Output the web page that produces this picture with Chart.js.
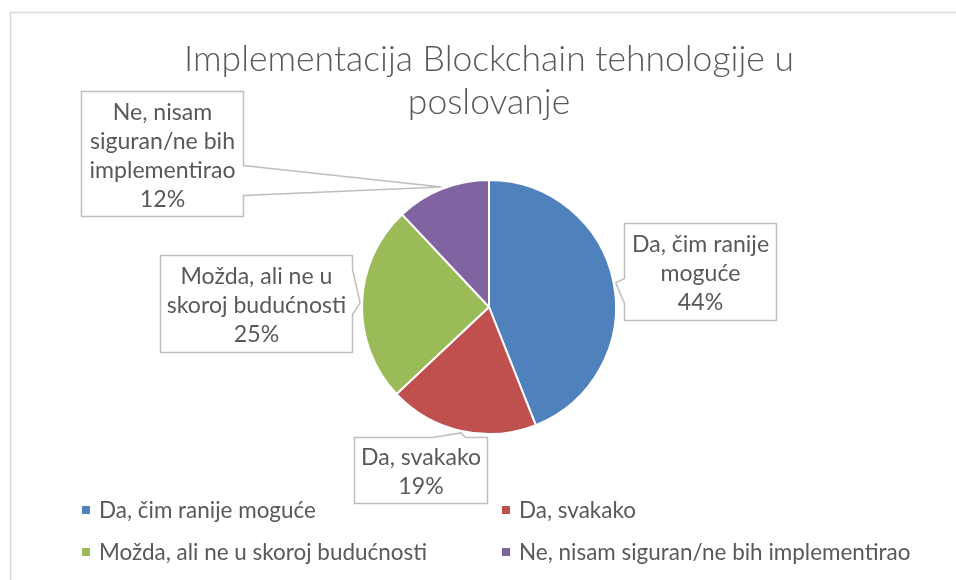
<!DOCTYPE html>
<html>
<head>
<meta charset="utf-8">
<style>
html,body{margin:0;padding:0;background:#fff;}
#wrap{width:956px;height:580px;position:relative;}
</style>
<script src="https://cdn.jsdelivr.net/npm/chart.js@4/dist/chart.umd.min.js"></script>
</head>
<body>
<div id="wrap"><canvas id="c" width="956" height="580"></canvas></div>
<script>
// ---- data ----
const titleLines = ['Implementacija Blockchain tehnologije u', 'poslovanje'];
const categories = ['Da, čim ranije moguće', 'Da, svakako', 'Možda, ali ne u skoroj budućnosti', 'Ne, nisam siguran/ne bih implementirao'];
const values = [44, 19, 25, 12];
const labelLines = [['Da, čim ranije', 'moguće'], ['Da, svakako'], ['Možda, ali ne u', 'skoroj budućnosti'], ['Ne, nisam', 'siguran/ne bih', 'implementirao']];
const colors = ['#4F81BD', '#C0504D', '#9BBB59', '#8064A2'];

// ---- styles / layout ----
const TEXT = '#595959';
const FAMILY = 'Lato, "Open Sans", sans-serif';
const mctx = document.createElement('canvas').getContext('2d');
function fit(text, weight, target) {
  mctx.font = weight + ' 100px ' + FAMILY;
  return 100 * target / mctx.measureText(text).width;
}
const titleSize = fit(titleLines[0], '300', 610);
const labelSize = fit('implementirao', '400', 146);
const legendSize = fit(categories[0], '400', 217);

// callout boxes: offset of box centre from leader tip, box size, side of wedge and its base span
const calloutLayout = [
  {dx: 84, dy: -11, w: 152, h: 97, side: 'left', b0: 55, b1: 80},
  {dx: -40, dy: 37, w: 133, h: 66, side: 'top', b0: 78, b1: 111},
  {dx: -104, dy: 1, w: 192, h: 97, side: 'right', b0: 14, b1: 59},
  {dx: -280, dy: -34, w: 162, h: 125, side: 'right', b0: 74, b1: 104}
];
const legendLayout = {cols: [86, 506], rows: [510, 552], gap: 13, box: 8};

const framePlugin = {
  id: 'frame',
  beforeDraw(chart) {
    const ctx = chart.ctx;
    ctx.save();
    ctx.fillStyle = '#fff';
    ctx.fillRect(0, 0, chart.width, chart.height);
    ctx.strokeStyle = '#d9d9d9';
    ctx.lineWidth = 1.5;
    ctx.strokeRect(10.5, 12.5, 1200, 1200);
    ctx.restore();
  }
};

const calloutPlugin = {
  id: 'callouts',
  afterDatasetsDraw(chart) {
    const ctx = chart.ctx;
    const meta = chart.getDatasetMeta(0);
    const total = values.reduce((a, b) => a + b, 0);
    meta.data.forEach((arc, i) => {
      const p = arc.getProps(['x', 'y', 'startAngle', 'endAngle', 'outerRadius'], true);
      const mid = (p.startAngle + p.endAngle) / 2;
      const tx = p.x + Math.cos(mid) * (p.outerRadius + 2);
      const ty = p.y + Math.sin(mid) * (p.outerRadius + 2);
      const L = calloutLayout[i];
      const x0 = Math.round(tx + L.dx - L.w / 2) + 0.5;
      const y0 = Math.round(ty + L.dy - L.h / 2) + 0.5;
      const x1 = x0 + L.w, y1 = y0 + L.h;
      ctx.save();
      ctx.beginPath();
      ctx.moveTo(x0, y0);
      if (L.side === 'top') { ctx.lineTo(x0 + L.b0, y0); ctx.lineTo(tx, ty); ctx.lineTo(x0 + L.b1, y0); }
      ctx.lineTo(x1, y0);
      if (L.side === 'right') { ctx.lineTo(x1, y0 + L.b0); ctx.lineTo(tx, ty); ctx.lineTo(x1, y0 + L.b1); }
      ctx.lineTo(x1, y1);
      ctx.lineTo(x0, y1);
      if (L.side === 'left') { ctx.lineTo(x0, y0 + L.b1); ctx.lineTo(tx, ty); ctx.lineTo(x0, y0 + L.b0); }
      ctx.closePath();
      ctx.fillStyle = '#fff';
      ctx.fill();
      ctx.strokeStyle = '#bfbfbf';
      ctx.lineWidth = 1.5;
      ctx.stroke();
      const lines = labelLines[i].concat([Math.round(values[i] / total * 100) + '%']);
      const lh = 29;
      const cy = (y0 + y1) / 2 + 2;
      ctx.fillStyle = TEXT;
      ctx.font = '400 ' + labelSize + 'px ' + FAMILY;
      ctx.textAlign = 'center';
      ctx.textBaseline = 'middle';
      lines.forEach((t, k) => {
        ctx.fillText(t, (x0 + x1) / 2, cy + (k - (lines.length - 1) / 2) * lh);
      });
      ctx.restore();
    });
  }
};

const legendPlugin = {
  id: 'customLegend',
  afterDraw(chart) {
    const ctx = chart.ctx;
    const ds = chart.data.datasets[0];
    ctx.save();
    ctx.font = '400 ' + legendSize + 'px ' + FAMILY;
    ctx.textBaseline = 'middle';
    ctx.textAlign = 'left';
    chart.data.labels.forEach((lab, i) => {
      const x = legendLayout.cols[i % 2];
      const y = legendLayout.rows[Math.floor(i / 2)];
      ctx.fillStyle = ds.backgroundColor[i];
      ctx.fillRect(x - legendLayout.box / 2, y - legendLayout.box / 2, legendLayout.box, legendLayout.box);
      ctx.fillStyle = TEXT;
      ctx.fillText(lab, x + legendLayout.gap, y + 1);
    });
    ctx.restore();
  }
};

new Chart(document.getElementById('c'), {
  type: 'pie',
  data: {
    labels: categories,
    datasets: [{
      data: values,
      backgroundColor: colors,
      borderColor: '#ffffff',
      borderWidth: 2,
      hoverOffset: 0
    }]
  },
  options: {
    responsive: false,
    animation: false,
    devicePixelRatio: 1,
    layout: {padding: {left: 22, right: 0, top: 0, bottom: 145}},
    plugins: {
      legend: {display: false},
      tooltip: {enabled: false},
      title: {
        display: true,
        text: titleLines,
        color: TEXT,
        font: {family: FAMILY, weight: '300', size: titleSize, lineHeight: 43 / titleSize},
        padding: {top: 38, bottom: 55}
      }
    }
  },
  plugins: [framePlugin, calloutPlugin, legendPlugin]
});
</script>
</body>
</html>
